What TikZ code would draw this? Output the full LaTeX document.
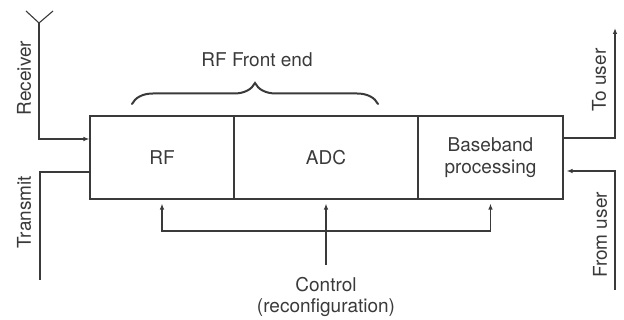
\documentclass[tikz,border=0pt]{standalone}
\usepackage{fontspec}
\setmainfont{TeX Gyre Heros}
\usetikzlibrary{arrows.meta,decorations.pathreplacing,calc}
\definecolor{ink}{HTML}{3A3A3A}
\begin{document}
\begin{tikzpicture}[x=1pt,y=-1pt,
  line width=1.1pt, draw=ink,
  lbl/.style={text=ink,font=\fontsize{19}{21}\selectfont,inner sep=0pt,align=center},
  blk/.style={draw=ink,line width=1.1pt,minimum height=83pt,inner sep=0pt,text=ink,font=\fontsize{19}{22}\selectfont,align=center},
  arr/.style={-{Latex[length=6pt,width=4.5pt]}},
  conn/.style={draw=ink,line width=1.1pt}]
\useasboundingbox (0,0) rectangle (624,320);
% blocks
\node[blk,minimum width=144pt] (rf) at (162,157.5) {RF};
\node[blk,minimum width=184pt] (adc) at (326,157.5) {ADC};
\node[blk,minimum width=145pt] (bb) at (490.5,157.5) {Baseband\\processing};
% antenna / receiver
\coordinate (ant) at (39,23);
\coordinate (antl) at (26,11);
\coordinate (antr) at (53,11);
\draw[conn] (antl) -- (ant) -- (antr);
\draw[conn,arr] (ant) |- ([yshift=18.5pt]rf.west);
\node[lbl,rotate=90] (rx) at (24,78) {Receiver};
% transmit
\coordinate (txend) at (40,280);
\draw[conn] ([yshift=-14.5pt]rf.west) -| (txend);
\node[lbl,rotate=90] (tx) at (24,212) {Transmit};
% to user
\coordinate (toend) at (615,28);
\draw[conn,arr] ([yshift=19.5pt]bb.east) -| (toend);
\node[lbl,rotate=90] (tou) at (599,80) {To user};
% from user
\coordinate (fromstart) at (615,290);
\draw[conn,arr,shorten >=3pt] (fromstart) |- ([yshift=-13.5pt]bb.east);
\node[lbl,rotate=90] (fromu) at (600,235) {From user};
% control
\coordinate (ctl) at (326,265);
\coordinate (bus) at (326,231);
\draw[conn,arr,shorten >=4pt] (ctl) -- (adc.south);
\draw[conn,arr,shorten >=4pt] (bus) -| (rf.south);
\draw[conn,arr,shorten >=4pt] (bus) -| (bb.south);
\node[lbl] (ctltext) at (326,297) {Control\\(reconfiguration)};
% brace
\coordinate (brl) at (132,104);
\coordinate (brr) at (378,104);
\draw[conn,line width=2pt,line cap=round,decorate,decoration={brace,amplitude=21pt,aspect=0.5}] (brl) -- (brr);
\node[lbl] (fe) at (257,60) {RF Front end};
\end{tikzpicture}
\end{document}
